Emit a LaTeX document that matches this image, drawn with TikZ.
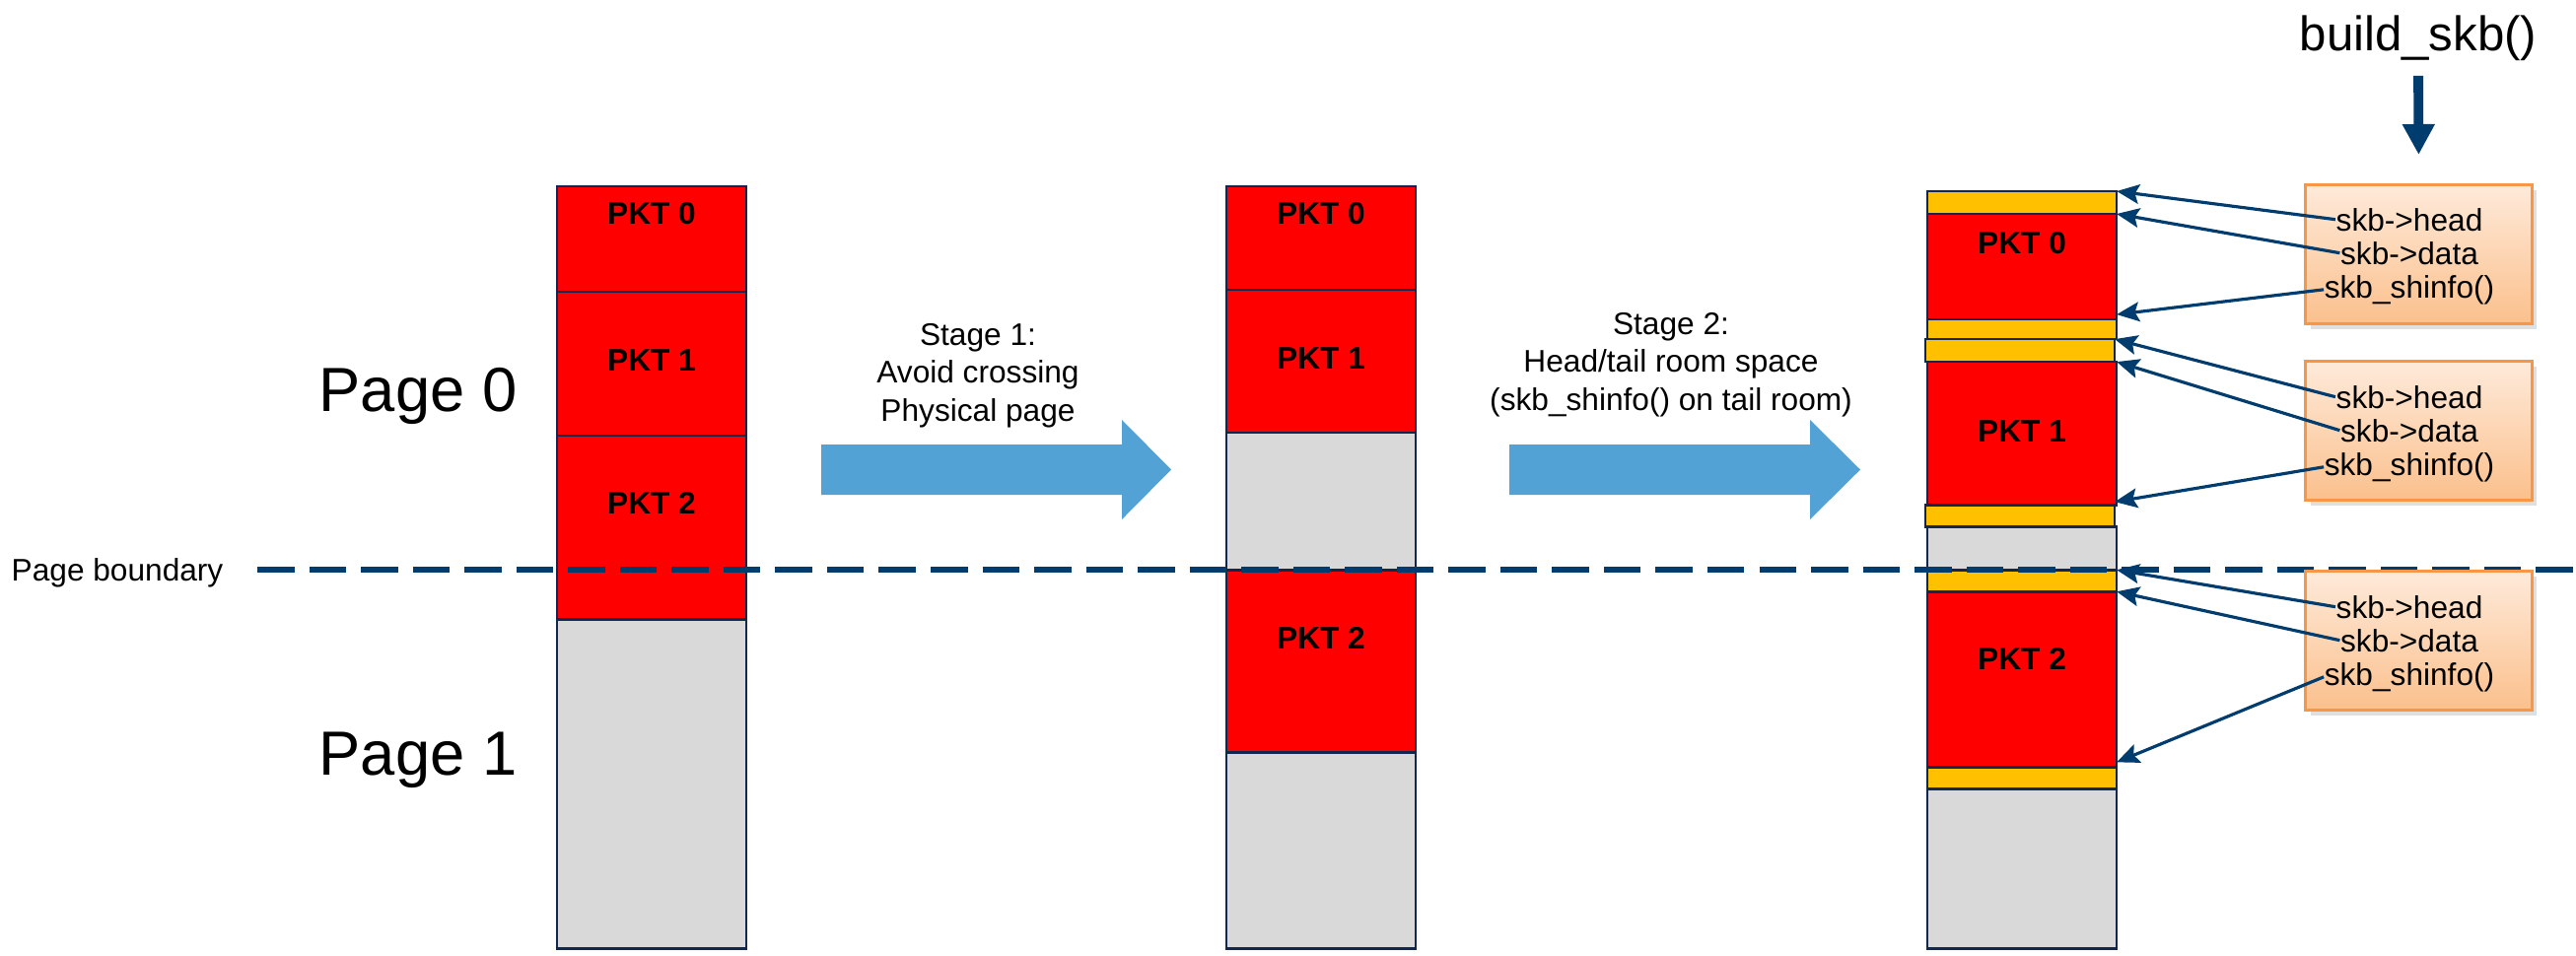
\documentclass[tikz,border=0pt]{standalone}
\usepackage{fontspec}
\setmainfont{Liberation Sans}
\usetikzlibrary{arrows.meta}
\usetikzlibrary{positioning}
\usetikzlibrary{shadows}
\definecolor{pktred}{HTML}{FF0000}
\definecolor{freegray}{HTML}{D9D9D9}
\definecolor{roomyellow}{HTML}{FFC000}
\definecolor{blockline}{HTML}{13264F}
\definecolor{ptrblue}{HTML}{003C6E}
\definecolor{stageblue}{HTML}{52A2D6}
\definecolor{boxline}{HTML}{F79646}
\definecolor{boxtop}{HTML}{FEEADA}
\definecolor{boxbottom}{HTML}{FBC08C}
\tikzset {
  mem block/.style = {
    draw = blockline,
    line width = 0.75pt,
    rectangle,
    minimum width = 1.92cm,
    inner sep = 0,
    outer sep = 0
  },
  % packet data
  pkt/.style = {
    mem block,
    fill = pktred
  },
  % unused part of a page
  free/.style = {
    mem block,
    fill = freegray
  },
  % head room / tail room
  room/.style = {
    mem block,
    fill = roomyellow
  },
  pkt label/.style = {
    font = \bfseries\fontsize{9}{11}\selectfont,
    inner sep = 0
  },
  small text/.style = {
    font = \fontsize{9}{11}\selectfont,
    inner sep = 0
  },
  stage text/.style = {
    small text,
    align = center
  },
  ptr text/.style = {
    small text,
    anchor = base
  },
  page label/.style = {
    font = \fontsize{18}{22}\selectfont,
    inner sep = 0,
    anchor = base
  },
  info box/.style = {
    draw = boxline,
    line width = 0.85pt,
    top color = boxtop,
    bottom color = boxbottom,
    minimum width = 2.29cm,
    minimum height = 1.41cm,
    inner sep = 0,
    drop shadow = {opacity = 0.25, shadow xshift = 1.5pt, shadow yshift = -1.5pt}
  }
}
\tikzset {
  % path style for the pointers
  ptr/.style = {
    draw = ptrblue,
    line width = 0.9pt,
    -{Stealth[length = 6.5pt, width = 5.6pt, inset = 1.2pt]}
  },
  build arrow/.style = {
    draw = ptrblue,
    line width = 2.8pt,
    -{Triangle[length = 8.8pt, width = 8.8pt]}
  },
  boundary/.style = {
    draw = ptrblue,
    line width = 1.7pt,
    dash pattern = on 0.375cm off 0.15cm
  },
  stage arrow/.style = {
    fill = stageblue
  }
}

\begin{document}
\begin{tikzpicture}[x = 0.01cm, y = -0.01cm]
    \useasboundingbox (0,0) rectangle (2613,969);

    % original layout
    \node[pkt, minimum height = 1.07cm, anchor = north] (orig0) at (661,189) {};
    \node[pkt, minimum height = 1.46cm] (orig1) [below=0pt of orig0] {};
    \node[pkt, minimum height = 1.86cm] (orig2) [below=0pt of orig1] {};
    \node[free, minimum height = 3.34cm] (origfree) [below=0pt of orig2] {};

    % after stage 1
    \node[pkt, minimum height = 1.05cm, anchor = north] (st1pkt0) at (1340,189) {};
    \node[pkt, minimum height = 1.45cm] (st1pkt1) [below=0pt of st1pkt0] {};
    \node[free, minimum height = 1.39cm] (st1gap) [below=0pt of st1pkt1] {};
    \node[pkt, minimum height = 1.85cm] (st1pkt2) [below=0pt of st1gap] {};
    \node[free, minimum height = 1.99cm] (st1free) [below=0pt of st1pkt2] {};

    % after stage 2
    \node[room, minimum height = 0.23cm, anchor = north] (head0) at (2051,194) {};
    \node[pkt, minimum height = 1.07cm] (pkt0) [below=0pt of head0] {};
    \node[room, minimum height = 0.20cm] (tail0) [below=0pt of pkt0] {};
    \node[room, minimum height = 0.23cm, xshift = -0.02cm] (head1) [below=0pt of tail0] {};
    \node[pkt, minimum height = 1.45cm, xshift = 0.02cm] (pkt1) [below=0pt of head1] {};
    \node[room, minimum height = 0.22cm, xshift = -0.02cm] (tail1) [below=0pt of pkt1] {};
    \node[free, minimum height = 0.44cm, xshift = 0.02cm] (gap) [below=0pt of tail1] {};
    \node[room, minimum height = 0.22cm] (head2) [below=0pt of gap] {};
    \node[pkt, minimum height = 1.78cm] (pkt2) [below=0pt of head2] {};
    \node[room, minimum height = 0.22cm] (tail2) [below=0pt of pkt2] {};
    \node[free, minimum height = 1.62cm] (free) [below=0pt of tail2] {};

    \node[pkt label] (orig0-l) at ([yshift=-0.28cm]orig0.north) {PKT 0};
    \node[pkt label] (orig1-l) at ([yshift=-0.69cm]orig1.north) {PKT 1};
    \node[pkt label] (orig2-l) at ([yshift=-0.68cm]orig2.north) {PKT 2};
    \node[pkt label] (st1pkt0-l) at ([yshift=-0.28cm]st1pkt0.north) {PKT 0};
    \node[pkt label] (st1pkt1-l) at ([yshift=-0.69cm]st1pkt1.north) {PKT 1};
    \node[pkt label] (st1pkt2-l) at ([yshift=-0.69cm]st1pkt2.north) {PKT 2};
    \node[pkt label] (pkt0-l) at ([yshift=-0.30cm]pkt0.north) {PKT 0};
    \node[pkt label] (pkt1-l) at ([yshift=-0.70cm]pkt1.north) {PKT 1};
    \node[pkt label] (pkt2-l) at ([yshift=-0.68cm]pkt2.north) {PKT 2};

    \node[page label] (page0) at (424,417) {Page 0};
    \node[page label] (page1) at (424,786) {Page 1};

    % page boundary
    \node[small text, anchor = base west] (pb) at (11,589) {Page boundary};
    \coordinate (pb-end) at (2613,578);
    \draw[boundary, shorten <= 0.34cm] (pb.east |- pb-end) -- (pb-end);

    % stages
    \fill[stage arrow] (833,451) -- (1138,451) -- (1138,426) -- (1188,476.5)
      -- (1138,527) -- (1138,502) -- (833,502) -- cycle;
    \fill[stage arrow] (1531,451) -- (1836,451) -- (1836,426) -- (1887,476.5)
      -- (1836,527) -- (1836,502) -- (1531,502) -- cycle;
    \node[stage text] (stage1) at (992,381) {Stage 1:\\Avoid crossing\\Physical page};
    \node[stage text] (stage2) at (1695,370) {Stage 2:\\Head/tail room space\\(skb\_shinfo() on tail room)};

    % build_skb() pointers
    \node[small text, font = \fontsize{14}{17}\selectfont, anchor = base] (build) at (2453,51) {build\_skb()};
    \node[info box] (box0) at (2453.5,258) {};
    \node[info box] (box1) at (2453.5,437) {};
    \node[info box] (box2) at (2453.5,650) {};
    \draw[build arrow, shorten <= 0.15cm, shorten >= 0.29cm] (build.south) -- (box0.north);

    \node[ptr text] (h0-txt) at (2444,234) {skb->head};
    \node[ptr text] (d0-txt) at (2444,268) {skb->data};
    \node[ptr text] (s0-txt) at (2444,302) {skb\_shinfo()};
    \node[ptr text] (h1-txt) at (2444,414) {skb->head};
    \node[ptr text] (d1-txt) at (2444,448) {skb->data};
    \node[ptr text] (s1-txt) at (2444,482) {skb\_shinfo()};
    \node[ptr text] (h2-txt) at (2444,627) {skb->head};
    \node[ptr text] (d2-txt) at (2444,661) {skb->data};
    \node[ptr text] (s2-txt) at (2444,695) {skb\_shinfo()};

    \draw[ptr] (h0-txt.west) -- (head0.north east);
    \draw[ptr] (d0-txt.west) -- (pkt0.north east);
    \draw[ptr] (s0-txt.west) -- ([yshift=0.05cm]tail0.north east);
    \draw[ptr] (h1-txt.west) -- (head1.north east);
    \draw[ptr] (d1-txt.west) -- (pkt1.north east);
    \draw[ptr] (s1-txt.west) -- ([yshift=0.03cm]tail1.north east);
    \draw[ptr] (h2-txt.west) -- (head2.north east);
    \draw[ptr] (d2-txt.west) -- (pkt2.north east);
    \draw[ptr] (s2-txt.west) -- ([yshift=0.05cm]tail2.north east);
  \end{tikzpicture}
\end{document}
